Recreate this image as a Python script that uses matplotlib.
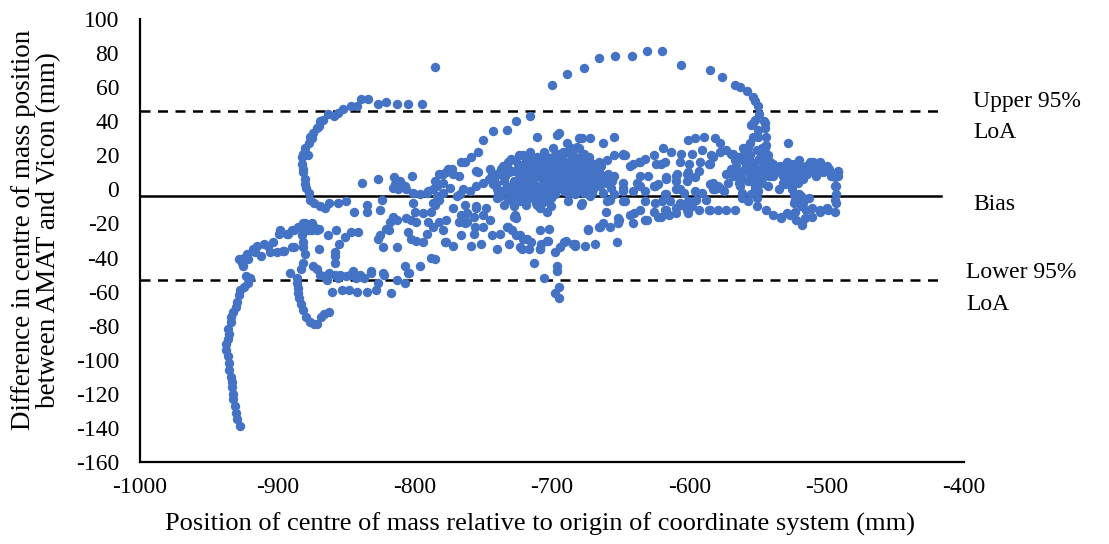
import numpy as np
import matplotlib.pyplot as plt

plt.rcParams['font.family'] = ['Liberation Serif', 'DejaVu Serif']
plt.rcParams['axes.unicode_minus'] = False

# Bland-Altman: mean position (x) vs difference AMAT - Vicon (y), in mm
tail = [(-927, -139), (-929, -135), (-930, -131), (-931, -127), (-932, -123), (-932, -120),
        (-933, -116), (-933, -113), (-934, -110), (-935, -106), (-935, -102), (-936, -98),
        (-937, -94), (-937, -91), (-936, -88), (-935, -85), (-936, -82), (-934, -78),
        (-934, -75), (-932, -72), (-930, -69), (-929, -66), (-928, -62), (-927, -59),
        (-924, -57), (-921, -55), (-923, -51), (-920, -52), (-925, -45), (-925, -42),
        (-924, -40), (-922, -38), (-926, -43), (-921, -41), (-918, -35), (-915, -33),
        (-910, -32), (-907, -33), (-903, -31), (-899, -26), (-892, -26), (-889, -24),
        (-885, -22), (-881, -20), (-912, -39), (-905, -37), (-900, -37), (-895, -36),
        (-889, -34), (-916, -37), (-928, -41)]

strand = [(-881, -22), (-882, -27), (-881, -31), (-881, -34), (-880, -38), (-881, -43),
          (-883, -47), (-891, -49), (-886, -52), (-886, -55), (-885, -58), (-885, -61),
          (-884, -64), (-883, -67), (-881, -71), (-879, -75), (-876, -78), (-873, -79),
          (-871, -79), (-868, -75), (-862, -72), (-866, -73), (-878, -24), (-875, -20),
          (-873, -22)]

low_left = [(-874, -45), (-869, -50), (-866, -51), (-862, -49), (-858, -50), (-854, -50),
            (-850, -51), (-847, -50), (-843, -52), (-840, -50), (-837, -52), (-832, -49),
            (-860, -60), (-853, -59), (-848, -59), (-842, -60), (-835, -60), (-828, -59),
            (-817, -61), (-823, -49), (-813, -53), (-807, -55), (-805, -49), (-807, -45),
            (-796, -45), (-788, -40), (-785, -41), (-871, -47), (-864, -53), (-856, -52),
            (-845, -48), (-832, -48), (-827, -55), (-822, -50), (-804, -49),
            (-871, -24), (-863, -27), (-857, -24), (-851, -28), (-846, -25), (-841, -25),
            (-855, -32), (-858, -37), (-870, -35), (-858, -43), (-898, -24), (-893, -26),
            (-888, -24), (-880, -20), (-875, -24), (-870, -23), (-888, -34), (-896, -36),
            (-858, -39)]

loop = [(-785, 72), (-795, 50), (-805, 50), (-813, 50), (-821, 51), (-827, 50), (-834, 53),
        (-839, 53), (-842, 49), (-846, 49), (-852, 47), (-856, 45), (-859, 43), (-863, 44),
        (-867, 41), (-869, 40), (-871, 36), (-874, 33), (-876, 31), (-877, 27), (-880, 24),
        (-881, 21), (-882, 19), (-882, 15), (-881, 12), (-881, 10), (-880, 6), (-879, 1),
        (-877, -2), (-876, -6), (-873, -8), (-869, -10), (-865, -11), (-862, -8), (-856, -8),
        (-850, -7), (-844, -13), (-835, -13), (-835, -9), (-825, -12), (-838, 4), (-827, 6),
        (-815, 7), (-802, 8), (-875, 30), (-870, 37), (-878, 20), (-880, 3)]

mid_left = [(-824, -6), (-814, 3), (-812, 0), (-810, 3), (-806, 0), (-801, -2), (-796, -3),
            (-791, -2), (-787, 0), (-801, -8), (-800, -13), (-816, -16), (-818, -19),
            (-813, -18), (-821, -23), (-825, -27), (-827, -29), (-823, -34), (-813, -34),
            (-806, -17), (-805, -25), (-803, -29), (-799, -30), (-794, -31), (-791, -26),
            (-790, -19), (-788, -13), (-785, -9), (-784, -4), (-779, 9), (-776, 12), (-772, 9),
            (-766, 16), (-759, 19), (-754, 22), (-787, -22), (-782, -19), (-779, -24),
            (-777, -31), (-772, -33), (-766, -18), (-762, -19), (-756, -22), (-763, -9),
            (-772, -11), (-757, -16), (-816, 1), (-811, 5), (-807, 2), (-790, -1), (-784, 2),
            (-779, -2), (-782, -6), (-787, -8), (-794, -14), (-799, -19), (-803, -18),
            (-819, -24), (-767, -3), (-765, 0), (-760, -1), (-755, 2), (-750, 4), (-746, 6),
            (-740, 9), (-737, 9), (-755, -10), (-762, -14), (-748, -11), (-740, -5),
            (-782, 9), (-777, 10), (-779, 4), (-774, 1), (-769, -4), (-754, 10), (-755, 11),
            (-773, 12), (-768, 8), (-785, 5), (-763, 16)]

rise = [(-733, 35), (-726, 40), (-716, 43), (-743, 34), (-750, 29), (-711, 31), (-696, 32),
        (-680, 30), (-672, 30), (-655, 31), (-689, 27), (-663, 27), (-648, 20), (-655, 20),
        (-660, 17), (-666, 16), (-695, 33), (-678, 30), (-680, 24), (-692, 22), (-695, 21),
        (-678, 20), (-647, 20), (-643, 14)]

core_a = [(-745, 12), (-742, 6), (-740, 0), (-738, -4), (-736, 14), (-734, 8), (-733, 2),
          (-731, -3), (-730, 18), (-729, 11), (-728, 5), (-727, -1), (-726, -7), (-725, 15),
          (-724, 9), (-723, 3), (-722, -2), (-721, 20), (-720, 12), (-719, 6), (-718, 0),
          (-717, -5), (-716, 16), (-715, 10), (-714, 4), (-713, -1), (-712, -8), (-711, 19),
          (-710, 13), (-709, 7), (-708, 1), (-707, -4), (-706, 22), (-705, 15), (-704, 9),
          (-703, 3), (-702, -2), (-701, -10), (-700, 18), (-699, 11), (-698, 5), (-697, 0),
          (-735, -9), (-732, 16), (-728, -10), (-724, 20), (-719, -9), (-716, 22), (-712, 14),
          (-709, -11), (-706, 8), (-703, -7), (-700, 12), (-743, 3), (-739, 9), (-737, -1),
          (-726, 11), (-721, 7), (-717, 3), (-713, 8), (-710, -2), (-707, 17), (-704, -4),
          (-701, 6), (-744, 9), (-741, 3), (-739, -2), (-737, 12), (-735, 5), (-732, -6),
          (-731, 10), (-729, 1), (-727, 17), (-725, -4), (-724, 6), (-722, 14), (-720, -6),
          (-719, 17), (-718, 9), (-716, -2), (-715, 6), (-714, 18), (-713, 12), (-711, 2),
          (-710, -6), (-709, 16), (-708, 10), (-707, -8), (-706, 4), (-705, -1), (-704, 19),
          (-703, 12), (-702, 6), (-701, -5), (-700, 2), (-699, 15), (-698, -3), (-697, 9),
          (-733, 13), (-728, -4), (-723, -7), (-721, 1), (-717, 13), (-712, -4)]

core_b = [(-699, 24), (-697, 16), (-695, 8), (-693, 2), (-692, 20), (-690, 13), (-689, 5),
          (-688, -2), (-687, 22), (-686, 17), (-685, 10), (-684, 3), (-683, -3), (-682, 25),
          (-681, 18), (-680, 11), (-679, 6), (-678, 0), (-677, 21), (-676, 14), (-675, 8),
          (-674, 2), (-673, 19), (-672, 12), (-671, 5), (-670, 15), (-669, 9), (-668, 3),
          (-667, 12), (-666, 6), (-694, 12), (-691, -1), (-688, 9), (-684, 14), (-680, -1),
          (-677, 4), (-674, 17), (-670, 0), (-696, 4), (-686, 24), (-663, 8), (-660, 4),
          (-657, 1), (-655, -3), (-698, 20), (-696, 12), (-694, 5), (-693, 17), (-691, 9),
          (-690, 22), (-689, 1), (-688, 15), (-687, 6), (-685, 20), (-684, -1), (-683, 7),
          (-682, 13), (-681, 2), (-679, 16), (-678, 9), (-677, -2), (-676, 18), (-675, 4),
          (-673, 10), (-672, 16), (-671, -1), (-669, 13), (-668, 7), (-666, 10), (-665, 2),
          (-664, 14), (-662, 5), (-659, 9), (-656, 5)]

mid_low = [(-777, -18), (-768, -19), (-763, -20), (-759, -33), (-752, -32), (-778, -31),
           (-766, -27), (-757, -26), (-755, -11), (-750, -15), (-745, -18), (-744, -27),
           (-738, -26), (-740, -35), (-732, -22), (-726, -17), (-723, -27), (-718, -29),
           (-731, -32), (-723, -34), (-717, -35), (-709, -35), (-703, -30), (-702, -23),
           (-694, -34), (-698, -37), (-691, -31), (-683, -32), (-676, -33), (-669, -32),
           (-674, -23), (-666, -22), (-663, -20), (-658, -22), (-652, -17), (-661, -13),
           (-653, -31), (-679, -9), (-688, -7), (-704, -13), (-711, -9), (-729, -24),
           (-727, -15), (-750, -22), (-766, -15), (-648, -1), (-647, -7), (-655, 8),
           (-648, 4), (-663, -2), (-658, -6), (-671, -2), (-695, -64), (-698, -61),
           (-695, -57), (-696, -48), (-706, -52), (-713, -43), (-690, -30), (-683, -33),
           (-652, -20), (-641, -20), (-715, -31), (-708, -32), (-709, -35), (-704, -30),
           (-722, -35), (-726, -27), (-721, -29), (-728, -16), (-733, -22), (-696, -45),
           (-678, -8), (-672, -4), (-660, -7), (-665, -22), (-674, -24), (-685, -32),
           (-709, -24)]

right_mid = [(-641, -1), (-640, -14), (-643, -15), (-636, -12), (-632, -7), (-631, -18),
             (-625, -8), (-623, -16), (-618, -12), (-615, -15), (-610, -14), (-606, -9),
             (-602, -12), (-598, -10), (-593, -12), (-585, -12), (-579, -12), (-573, -12),
             (-567, -12), (-636, 8), (-630, 8), (-617, 7), (-610, 8), (-610, 5), (-625, 2),
             (-602, 9), (-607, 0), (-617, -3), (-624, 15), (-618, 16), (-636, 16), (-641, 15),
             (-601, 29), (-596, 30), (-589, 31), (-581, 30), (-578, 27), (-573, 23), (-568, 21),
             (-564, 19), (-648, 21), (-637, 16), (-632, 18), (-626, 20), (-619, 24), (-613, 22),
             (-606, 21), (-598, 21), (-591, 23), (-584, 20), (-621, 15), (-607, 16), (-600, 15),
             (-592, 16), (-585, 15), (-609, 9), (-601, 10), (-593, 11), (-617, 6), (-602, 5),
             (-596, 7), (-626, 2), (-623, 3), (-638, 4), (-636, 2), (-648, 1), (-632, -1),
             (-618, -3), (-610, 0), (-604, -2), (-596, -1), (-591, -2), (-585, 3), (-581, 0),
             (-578, 1), (-575, -1), (-583, 4), (-588, -6), (-595, -6), (-601, -7), (-648, -7),
             (-620, -7), (-614, -7), (-607, -8), (-626, -13), (-621, -16), (-617, -12),
             (-610, -11), (-600, -11), (-601, -14), (-586, -12), (-632, -18), (-651, -18)]

right_end = [(-562, -5), (-557, -7), (-551, -5), (-551, -10), (-544, -12), (-539, -15),
             (-533, -16), (-529, -14), (-524, -8), (-523, -13), (-522, -18), (-518, -21),
             (-516, -17), (-511, -16), (-511, -11), (-505, -12), (-500, -11), (-494, -13),
             (-493, -8), (-493, -3), (-493, 2), (-494, 7), (-492, 10), (-497, 8), (-519, -4),
             (-524, -3), (-528, 27), (-511, 15), (-533, -17), (-527, -15), (-523, -6),
             (-519, -10), (-518, -19), (-505, -13), (-499, -12), (-494, -6), (-494, 2),
             (-492, 8), (-492, 11), (-495, 8), (-535, 0), (-532, 4), (-529, 9), (-527, 15),
             (-519, 13), (-512, 15), (-510, 11), (-516, 10), (-524, 9), (-544, 15), (-549, 18),
             (-539, 15), (-551, 8), (-546, 8), (-539, 8), (-561, 17), (-563, 9), (-564, 4),
             (-568, 8), (-570, 21), (-578, 22), (-583, 19), (-586, 15), (-573, 9), (-579, 2),
             (-583, 0)]

core_c = [(-568, 20), (-566, 14), (-565, 8), (-563, 2), (-561, 24), (-560, 17), (-558, 11),
          (-557, 5), (-556, 20), (-554, 14), (-553, 8), (-552, 1), (-551, 23), (-549, 17),
          (-548, 11), (-547, 4), (-545, 19), (-544, 13), (-542, 8), (-541, 16), (-539, 11),
          (-562, -2), (-555, -3), (-550, -1), (-543, 20), (-570, 12), (-572, 4),
          (-534, 14), (-532, 8), (-530, 3), (-529, 16), (-527, 11), (-526, 5), (-525, 0),
          (-524, 15), (-522, 10), (-521, 4), (-520, 17), (-518, 12), (-517, 6), (-515, 14),
          (-514, 9), (-512, 16), (-511, 11), (-509, 14), (-508, 8), (-506, 12), (-505, 16),
          (-503, 10), (-500, 14), (-498, 12), (-520, -3), (-517, -8), (-515, -12), (-513, -5),
          (-567, 17), (-564, 11), (-562, 6), (-559, 14), (-556, 9), (-555, 16), (-553, 4),
          (-551, 12), (-550, 6), (-548, 20), (-546, 14), (-544, 9), (-543, 2), (-540, 13),
          (-537, 10), (-533, 11), (-531, 14), (-528, 6), (-526, 13), (-523, 7), (-522, 13),
          (-519, 9), (-516, 13), (-513, 12), (-510, 16), (-507, 10), (-504, 13), (-501, 12)]

arc = [(-700, 61), (-689, 68), (-677, 71), (-666, 77), (-654, 78), (-642, 78), (-631, 81),
       (-620, 81), (-606, 73), (-585, 70), (-576, 66), (-567, 61), (-563, 60), (-558, 58),
       (-554, 54), (-552, 52), (-550, 49), (-549, 44), (-552, 41), (-555, 38), (-546, 40),
       (-545, 36), (-544, 31), (-550, 35), (-554, 31), (-556, 27), (-557, 24), (-544, 26),
       (-547, 24), (-554, 39), (-545, 39), (-550, 31), (-557, 25), (-560, 21), (-545, 24),
       (-549, 23)]

bias = -3.7
loa_upper = 45.8
loa_lower = -53.2

groups = [tail, strand, low_left, loop, mid_left, rise, core_a, core_b,
          mid_low, right_mid, right_end, core_c, arc]
pts = np.array([p for g in groups for p in g], dtype=float)

fig = plt.figure(figsize=(11.09, 5.44), dpi=100)
ax = fig.add_axes([0.1262, 0.1507, 0.7431, 0.8144])

ax.scatter(pts[:, 0], pts[:, 1], s=46, color='#4472C4', linewidths=0, zorder=3)

ax.plot([-1000, -417], [bias, bias], color='black', lw=1.8, zorder=2, clip_on=False)
for y in (loa_upper, loa_lower):
    ax.plot([-1000, -417], [y, y], color='black', lw=1.8, ls=(0, (4, 3)),
            zorder=2, clip_on=False)

ax.set_xlim(-1000, -400)
ax.set_ylim(-160, 100)
ax.set_xticks(np.arange(-1000, -399, 100))
ax.set_yticks(np.arange(-160, 101, 20))
ax.tick_params(axis='both', length=0, labelsize=17, colors='black')
ax.tick_params(axis='y', pad=15)
ax.tick_params(axis='x', pad=11)
for s in ('top', 'right'):
    ax.spines[s].set_visible(False)
for s in ('left', 'bottom'):
    ax.spines[s].set_linewidth(1.6)

fig.text(540 / 1109, 1 - 524 / 544,
         'Position of centre of mass relative to origin of coordinate system (mm)',
         ha='center', va='center', fontsize=19)
fig.text(36 / 1109, 1 - 230 / 544,
         'Difference in centre of mass position\nbetween AMAT and Vicon (mm)',
         ha='center', va='center', rotation=90, fontsize=19.5, linespacing=1.0)

fig.text(973 / 1109, 1 - 102 / 544, 'Upper 95%', ha='left', va='center', fontsize=17)
fig.text(973 / 1109, 1 - 132 / 544, 'LoA', ha='left', va='center', fontsize=17)
fig.text(973 / 1109, 1 - 204 / 544, 'Bias', ha='left', va='center', fontsize=17)
fig.text(966 / 1109, 1 - 273 / 544, 'Lower 95%', ha='left', va='center', fontsize=17)
fig.text(966 / 1109, 1 - 304 / 544, 'LoA', ha='left', va='center', fontsize=17)

fig.savefig('out.png', dpi=100)
